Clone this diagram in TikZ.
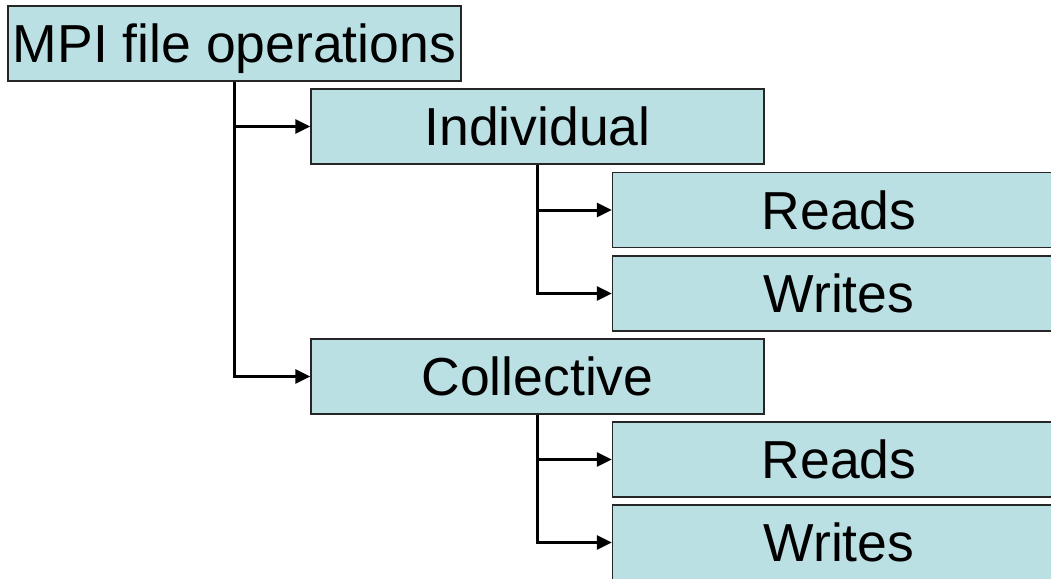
\documentclass[tikz,border=0pt]{standalone}
\usepackage{fontspec}
\setmainfont{Liberation Sans}
\usetikzlibrary{arrows.meta}
\definecolor{boxfill}{HTML}{BBE0E3}
\tikzset{
  opbox/.style={draw=black!85, line width=1.5pt, fill=boxfill, rectangle,
    minimum width=453pt, minimum height=75pt, inner sep=0pt,
    font=\fontsize{53.5}{62}\selectfont, text height=38pt, text depth=0pt},
  link/.style={draw=black, line width=3pt, -{Triangle[length=15pt,width=14pt]}}
}
\begin{document}
\begin{tikzpicture}[x=1pt,y=-1pt]
\useasboundingbox (0,0) rectangle (1051,578);
\clip (0,0) rectangle (1051,578);
\node[opbox] (mpi) at (234.5,43.5) {MPI file operations};
\node[opbox] (ind) at (537.5,126.5) {Individual};
\node[opbox] (r1) at (839,210) {Reads};
\node[opbox] (w1) at (839,293.5) {Writes};
\node[opbox] (col) at (537.5,376.5) {Collective};
\node[opbox] (r2) at (839,459.5) {Reads};
\node[opbox] (w2) at (839,542.5) {Writes};
\draw[link] (mpi.south) |- (ind.west);
\draw[link] (mpi.south) |- (col.west);
\draw[link] (ind.south) |- (r1.west);
\draw[link] (ind.south) |- (w1.west);
\draw[link] (col.south) |- (r2.west);
\draw[link] (col.south) |- (w2.west);
\end{tikzpicture}
\end{document}
